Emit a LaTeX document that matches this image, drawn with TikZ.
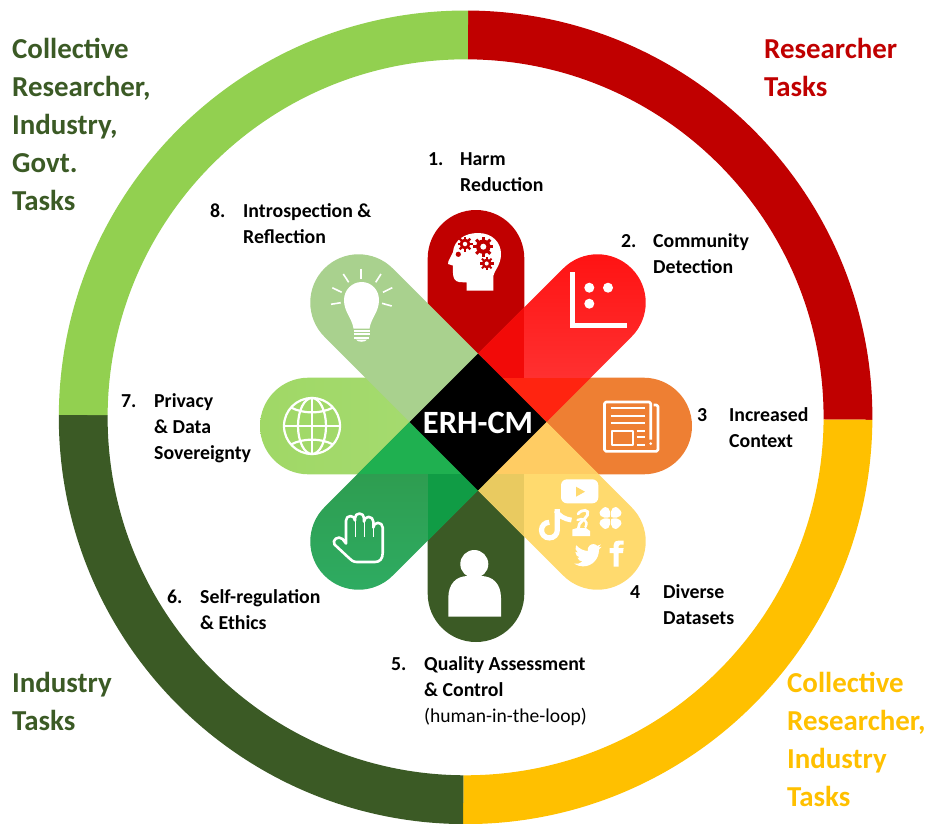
\documentclass[tikz,border=0pt]{standalone}
\usepackage{fontspec}
\setmainfont{Carlito}
\usetikzlibrary{calc}
\definecolor{cRed}{HTML}{C00000}
\definecolor{cAmber}{HTML}{FFC000}
\definecolor{cDark}{HTML}{3B5A25}
\definecolor{cLime}{HTML}{92D050}
\definecolor{cOrange}{HTML}{EE7F33}
\definecolor{cYellow}{HTML}{FFDA6E}
\definecolor{cNW}{HTML}{A9D18E}
\definecolor{wA}{HTML}{A0D866}
\definecolor{wB}{HTML}{A6DB72}
\definecolor{neA}{HTML}{FF1212}
\definecolor{neB}{HTML}{FF3C3C}
\definecolor{swA}{HTML}{2E9648}
\definecolor{swB}{HTML}{2EAC62}
\definecolor{ovNeN}{HTML}{F20A08}
\definecolor{ovNeE}{HTML}{FF2410}
\definecolor{ovSeE}{HTML}{FFCC63}
\definecolor{ovSeS}{HTML}{E9CA60}
\definecolor{ovSwW}{HTML}{1FB050}
\definecolor{ovSwS}{HTML}{109C45}
\newcommand{\capsule}{(40,-48.3) -- (168.9,-48.3) arc[start angle=-90,end angle=90,radius=48.3] -- (40,48.3) -- cycle}
\newcommand{\axcapN}{(48.3,-48.3) -- (167.7,-48.3) arc[start angle=-90,end angle=90,radius=48.3] -- (48.3,48.3) -- cycle}
\newcommand{\axcapE}{(0,-48.3) -- (167.7,-48.3) arc[start angle=-90,end angle=90,radius=48.3] -- (0,48.3) -- cycle}
\newcommand{\ringseg}[3]{\fill[#1] ($(R)+(#2:406.8)$) arc[start angle=#2,end angle=#3,radius=406.8] -- ($(R)+(#3:358)$) arc[start angle=#3,end angle=#2,radius=358] -- cycle;}
\newcommand{\gear}[3]{\begin{scope}[shift={(#1,#2)}]
 \fill[cRed] (0,0) circle[radius={0.72*#3}];
 \foreach \a in {0,45,...,315}{\draw[cRed,line width=0.3*#3 pt] (\a:0.6*#3) -- (\a:#3);}
 \fill[white] (0,0) circle[radius={0.3*#3}];
\end{scope}}
\begin{document}
\begin{tikzpicture}[x=1pt,y=-1pt,
 txt/.style={anchor=base west,inner sep=0pt,font=\fontsize{19.8}{26}\selectfont\bfseries,text=black},
 txtreg/.style={anchor=base west,inner sep=0pt,font=\fontsize{19.6}{26}\selectfont,text=black},
 big/.style={anchor=base west,inner sep=0pt,font=\fontsize{28.9}{38}\selectfont\bfseries},
 ico/.style={draw=white,line width=2.2pt,fill=none,line join=round}]
\useasboundingbox (0,0) rectangle (930,823);
\coordinate (R) at (465.6,417.3);
\coordinate (A) at (476,426);
\coordinate (D) at (478,422);
% ring
\ringseg{cRed}{-89.65}{0.35}
\ringseg{cAmber}{0.35}{90.35}
\ringseg{cDark}{90.35}{180.35}
\ringseg{cLime}{180.35}{270.35}
% axial petals
\fill[cRed,shift={(A)},rotate=90] \axcapN;
\fill[cOrange,shift={(A)},rotate=0] \axcapE;
\fill[cDark,shift={(A)},rotate=-90] \axcapN;
\shade[shift={(A)},rotate=180,left color=wA,right color=wB] \axcapE;
% diagonal petals
\shade[shift={(D)},rotate=45,shading=axis,shading angle=-45,top color=neA,bottom color=neB] \capsule;
\shade[shift={(D)},rotate=-135,shading=axis,shading angle=135,top color=swA,bottom color=swB] \capsule;
\fill[cYellow,shift={(D)},rotate=-45] \capsule;
% overlaps
\begin{scope}
 \clip[shift={(D)},rotate=45] \capsule;
 \fill[ovNeN] (428,210) rectangle (524.3,377.7);
 \fill[ovNeE] (428,377.7) rectangle (692,474);
\end{scope}
\begin{scope}
 \clip[shift={(D)},rotate=-45] \capsule;
 \fill[ovSeE] (428,377.7) rectangle (692,474.3);
 \fill[ovSeS] (427.7,474.3) rectangle (524.3,642);
\end{scope}
\begin{scope}
 \clip[shift={(D)},rotate=-135] \capsule;
 \fill[ovSwW] (260,377.7) rectangle (524,474.3);
 \fill[ovSwS] (427.7,474.3) rectangle (524.3,642);
\end{scope}
\fill[cNW,shift={(D)},rotate=135] \capsule;
% centre
\fill[black] (478,353.7) -- (546.3,422) -- (478,490.3) -- (409.7,422) -- cycle;
\node[inner sep=0pt,text=white,font=\fontsize{32.5}{36}\selectfont\bfseries] (centre) at (478,423) {ERH-CM};

% ---- head icon
\fill[white] (493.3,290.7) -- (466.7,290.7) -- (466.7,282.5) -- (459,282)
 .. controls (455,281.5) and (453,278) .. (453,273) -- (452.8,265.5) -- (448,264) -- (448.5,261)
 -- (453,252) .. controls (454,240) and (465,233) .. (478,233)
 .. controls (493,233) and (501,243) .. (501,254)
 .. controls (501,265) and (494,271) .. (493.3,276) -- cycle;
\gear{483.3}{246.7}{10}
\gear{465}{244}{7.5}
\gear{486.7}{263.5}{6.8}
\fill[cRed] (458.3,254.3) circle[radius=2.6];
% ---- chart icon
\fill[white] (570,271.7) rectangle (575.3,328.3);
\fill[white] (570,323.3) rectangle (627.3,328.3);
\fill[white] (589.3,287.7) circle[radius=5];
\fill[white] (608,287.7) circle[radius=5];
\fill[white] (589.3,303.7) circle[radius=5];
% ---- newspaper icon
\draw[ico,line width=2.6pt,rounded corners=1.5pt] (653.5,405) -- (658,405) -- (658,451.3) -- (604.5,451.3) -- (604.5,402) -- (650.7,402) -- (650.7,439.5);
\fill[white] (650.7,443.6) circle[radius=1.5];
\foreach \yy in {408.3,416,423.3}{\draw[white,line width=2.2pt] (610.7,\yy) -- (645,\yy);}
\draw[ico] (611.7,430.7) rectangle (632.7,445);
\foreach \yy in {430.7,437.3,445}{\draw[white,line width=2.2pt] (636.7,\yy) -- (645,\yy);}
% ---- social icons
\fill[white,rounded corners=6pt] (561,479.3) rectangle (598.3,503.3);
\fill[cYellow] (576,486.7) -- (585,491.7) -- (576,496.7) -- cycle;
\draw[white,line width=5.2pt] (549.3,522.3) .. controls (545,522.3) and (541.5,525.7) .. (541.5,530) .. controls (541.5,534.5) and (545,537.9) .. (549.3,537.9) .. controls (554,537.9) and (557.3,534.5) .. (557.3,530) -- (557.3,509);
\draw[white,line width=4.8pt] (556,510.5) .. controls (559,516) and (564,519) .. (571.5,520);
\fill[white] (572.3,536) -- (572.3,529.5) -- (577,528) -- (586,528) -- (590,531) -- (590,536) -- cycle;
\draw[white,line width=2.8pt,line cap=round] (578,514) .. controls (582,508.5) and (590,509.5) .. (587.5,515) .. controls (585,520) and (578,522) .. (578.5,528);
\draw[white,line width=2.4pt,line cap=round] (577.5,520) .. controls (582,517.5) and (589,520) .. (585.5,527);
\foreach \ang in {-135,-45,45,135}{
 \fill[white,shift={(610.5,518)},rotate=\ang] (1.2,0) .. controls (5,-7) and (13,-7.5) .. (12.3,0) .. controls (13,7.5) and (5,7) .. (1.2,0) -- cycle;}
\begin{scope}[shift={(574.3,541.5)},scale=1.14]
\fill[white] (24,4.6) .. controls (23.1,5) and (22.1,5.2) .. (21.1,5.3)
 .. controls (22.1,4.7) and (22.9,3.8) .. (23.3,2.6)
 .. controls (22.35,3.15) and (21.3,3.55) .. (20.2,3.8)
 .. controls (18.3,1.8) and (15.3,1.8) .. (13.3,3.7)
 .. controls (12,5) and (11.5,6.5) .. (11.8,8.3)
 .. controls (7.7,8.1) and (4.1,6.1) .. (1.6,3.2)
 .. controls (0.3,5.4) and (1,8.3) .. (3.2,9.7)
 .. controls (2.4,9.7) and (1.6,9.5) .. (0.9,9.1)
 .. controls (0.9,11.5) and (2.6,13.5) .. (4.9,14)
 .. controls (4.2,14.2) and (3.4,14.2) .. (2.7,14.1)
 .. controls (3.3,16.1) and (5.2,17.5) .. (7.3,17.5)
 .. controls (5.2,19.2) and (2.6,19.9) .. (0,19.5)
 .. controls (2.3,21) and (4.9,21.8) .. (7.6,21.8)
 .. controls (16.6,21.8) and (21.6,14.3) .. (21.6,7.8)
 .. controls (21.6,7.6) and (21.6,7.4) .. (21.5,7.2)
 .. controls (22.5,6.5) and (23.3,5.6) .. (24,4.6) -- cycle;
\end{scope}
\fill[white] (613.5,566.7) -- (618.5,566.7) -- (618.5,553) -- (623,553) -- (623.6,548) -- (618.5,548) -- (618.5,546)
 .. controls (618.5,545) and (619,544.7) .. (620,544.7) -- (623.6,544.7) -- (623.6,540.7) -- (618.5,540.7)
 .. controls (615,540.7) and (613.5,542.7) .. (613.5,545.5) -- (613.5,548) -- (609.5,548) -- (609.5,553) -- (613.5,553) -- cycle;
% ---- person icon
\fill[white] (474.3,564) circle[radius=14];
\fill[white] (448.3,616.7) -- (448.3,598) .. controls (448.3,584) and (456,576) .. (468,576) -- (481,576)
 .. controls (493,576) and (501,584) .. (501,598) -- (501,616.7) -- cycle;
% ---- hand icon
\draw[ico,line width=2.6pt] (346,543.5) -- (346,520.5) arc[start angle=180,end angle=360,radius=4.5]
 -- (355,518) arc[start angle=180,end angle=360,radius=4.5]
 -- (364,521.5) arc[start angle=180,end angle=360,radius=4.65]
 -- (373.3,527.5) arc[start angle=180,end angle=360,radius=4.7]
 -- (382.7,553) .. controls (382.7,558.5) and (380,562) .. (375,562) -- (357,562)
 .. controls (353,562) and (351,560) .. (349,558)
 -- (334.5,544.5) .. controls (331.5,540) and (338.5,535) .. (342.5,539) -- cycle;
\foreach \xx/\yt in {355/520,364/520,373.3/525}{\draw[white,line width=0.9pt] (\xx,\yt) -- (\xx,537);}
% ---- globe icon
\draw[ico] (312,426) circle[radius=28];
\draw[ico] (312,398) -- (312,454);
\draw[ico] (284,426) -- (340,426);
\draw[ico] (312,426) ellipse[x radius=14,y radius=28];
\draw[ico] (291,407.5) .. controls (303,414) and (321,414) .. (333,407.5);
\draw[ico] (291,444.5) .. controls (303,438) and (321,438) .. (333,444.5);
% ---- bulb icon
\fill[white] (353.5,328.5) .. controls (352,318) and (344,312) .. (344,300)
 .. controls (344,290) and (352,282) .. (361.7,282) .. controls (371.5,282) and (379,290) .. (379,300)
 .. controls (379,312) and (371,318) .. (369.5,328.5) -- cycle;
\foreach \yy/\ww in {330.8/8,334.4/8,337.9/7.5}{\draw[white,line width=2pt] (361.5-\ww,\yy) -- (361.5+\ww,\yy);}
\fill[white] (356,339.5) .. controls (357,342.5) and (366,342.5) .. (367,339.5) -- cycle;
\draw[white,line width=1.6pt] (361,268.5) -- (361,279);
\draw[white,line width=1.6pt] (343.3,274) -- (348.7,282.3);
\draw[white,line width=1.6pt] (381,274) -- (375.7,282.3);
\draw[white,line width=1.6pt] (332.3,287.7) -- (341.7,292.3);
\draw[white,line width=1.6pt] (392.3,287.7) -- (383,292.3);
\draw[white,line width=1.6pt] (331,304.3) -- (340.7,302.7);
\draw[white,line width=1.6pt] (391.7,306) -- (382,303.3);

% ---- numbered labels
\node[txt] (n1) at (428,165) {1.};
\node[txt] (t1) at (460,165) {\vtop{\hbox{Harm}\hbox{Reduction}}};
\node[txt] (n2) at (621,247) {2.};
\node[txt] (t2) at (653,247) {\vtop{\hbox{Community}\hbox{Detection}}};
\node[txt] (n3) at (697,421) {3};
\node[txt] (t3) at (729,421) {\vtop{\hbox{Increased}\hbox{Context}}};
\node[txt] (n4) at (630,598) {4};
\node[txt] (t4) at (663,598) {\vtop{\hbox{Diverse}\hbox{Datasets}}};
\node[txt] (n5) at (391,670) {5.};
\node[txt] (t5) at (424,670) {\vtop{\hbox{Quality Assessment}\hbox{\& Control}}};
\node[txtreg] (t5b) at (424,722) {(human-in-the-loop)};
\node[txt] (n6) at (167,603) {6.};
\node[txt] (t6) at (200,603) {\vtop{\hbox{Self-regulation}\hbox{\& Ethics}}};
\node[txt] (n7) at (121,407) {7.};
\node[txt] (t7) at (154,407) {\vtop{\hbox{Privacy}\hbox{\& Data}\hbox{Sovereignty}}};
\node[txt] (n8) at (210,217) {8.};
\node[txt] (t8) at (243,217) {\vtop{\hbox{Introspection \&}\hbox{Reflection}}};
% ---- corner labels
\node[big,text=cDark] (cTL) at (12,58) {\vtop{\hbox{Collective}\hbox{Researcher,}\hbox{Industry,}\hbox{Govt.}\hbox{Tasks}}};
\node[big,text=cRed] (cTR) at (764,58) {\vtop{\hbox{Researcher}\hbox{Tasks}}};
\node[big,text=cDark] (cBL) at (12,692) {\vtop{\hbox{Industry}\hbox{Tasks}}};
\node[big,text=cAmber] (cBR) at (787,692) {\vtop{\hbox{Collective}\hbox{Researcher,}\hbox{Industry}\hbox{Tasks}}};
\end{tikzpicture}
\end{document}
